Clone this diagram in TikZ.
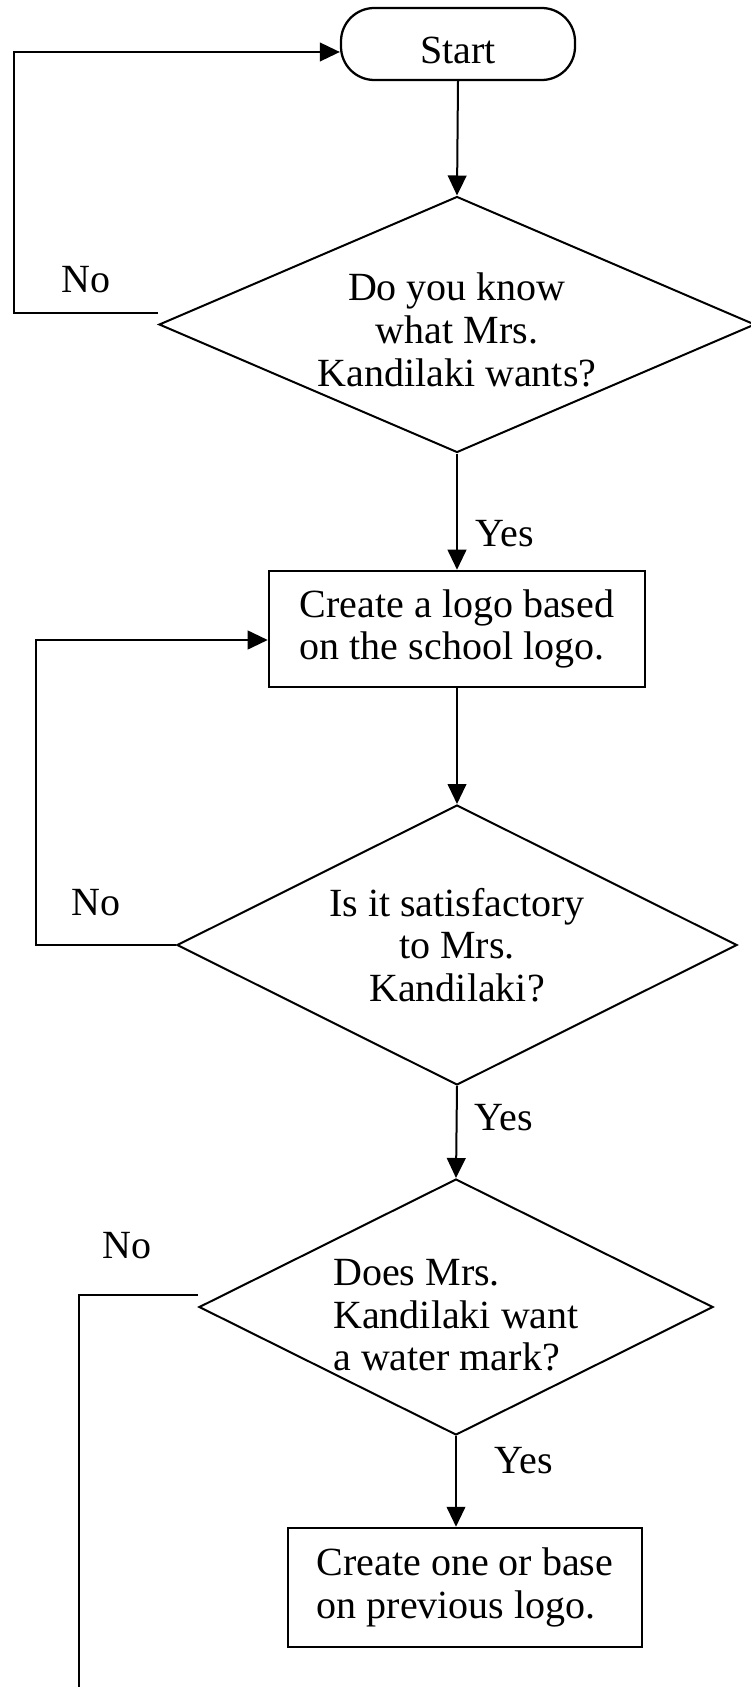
\documentclass[tikz,border=0pt]{standalone}
\usepackage{fontspec}
\setmainfont{Liberation Serif}
\usetikzlibrary{shapes.geometric,arrows.meta,calc}
\begin{document}
\begin{tikzpicture}[x=0.75pt,y=-0.75pt,line width=1.5pt,
  >={Triangle[length=15pt,width=14pt]},
  every node/.style={font=\fontsize{30}{32}\selectfont},
  dia/.style={draw,diamond,inner sep=0pt,align=center,line width=1.5pt},
  box/.style={draw,rectangle,inner sep=0pt,align=left,line width=1.9pt},
  term/.style={draw,rectangle,rounded corners=25pt,inner sep=0pt,line width=1.7pt},
  lbl/.style={inner sep=0pt}]
\useasboundingbox (0,0) rectangle (750,1687);
\node[term,minimum width=175.5pt,minimum height=54pt] (start) at (458,44) {\rule{0pt}{30pt}Start};
\node[dia,minimum width=447pt,minimum height=192pt,aspect=2.33] (d1) at (457,324.5)
  {\rule{0pt}{29pt}Do you know\\what Mrs.\\Kandilaki wants?};
\node[box,minimum width=282pt,minimum height=87pt] (b1) at (457,629)
  {Create a logo based\\on the school logo.};
\node[dia,minimum width=420pt,minimum height=210pt,aspect=2] (d2) at (457,945)
  {Is it satisfactory\\to Mrs.\\Kandilaki?};
\node[dia,align=left,minimum width=385.5pt,minimum height=192pt,aspect=2] (d3) at (456,1307)
  {\rule{0pt}{32pt}Does Mrs.\\Kandilaki want\\a water mark?};
\node[box,minimum width=265.5pt,minimum height=89.25pt] (b2) at (465,1587.5)
  {Create one or base\\on previous logo.};
\node[lbl] (no1) at (86,280) {No};
\node[lbl] (no2) at (96,903) {No};
\node[lbl] (no3) at (127,1246) {No};
\node[lbl] (yes1) at (505,534) {Yes};
\node[lbl] (yes2) at (504,1118) {Yes};
\node[lbl] (yes3) at (524,1461) {Yes};
\coordinate (k1) at (14,0);
\coordinate (k2) at (36,0);
\coordinate (e3) at (79,1690);
\coordinate (l1a) at ($(d1.west)+(0,-12)$);
\coordinate (l3a) at ($(d3.west)+(0,-12)$);
\draw[->] (start.south) -- (d1.north);
\draw[->] (d1.south) -- (b1.north);
\draw[->] (b1.south) -- (d2.north);
\draw[->] (d2.south) -- (d3.north);
\draw[->] (d3.south) -- (d3.south |- b2.north);
\draw[->] (l1a) -- (l1a -| k1) |- ($(start.west)+(0,8)$);
\draw[->] (d2.west) -- (d2.west -| k2) |- ($(b1.west)+(0,11)$);
\draw (l3a) -| (e3);
\end{tikzpicture}
\end{document}
